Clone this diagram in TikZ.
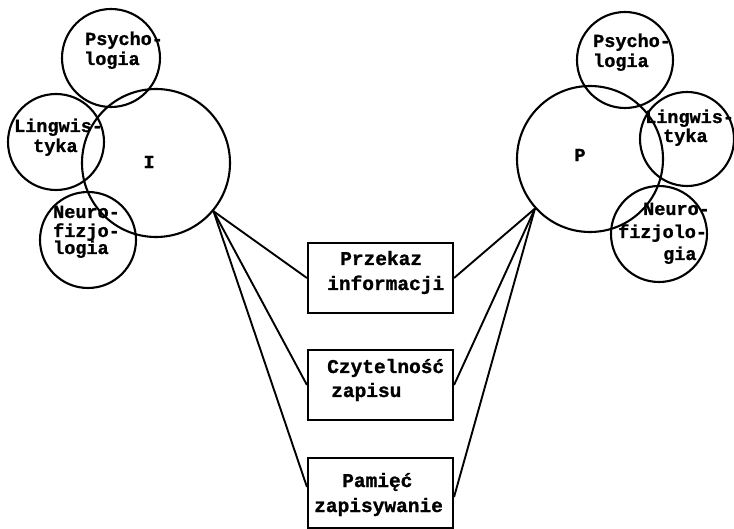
\documentclass[tikz,border=0pt]{standalone}
\usepackage{fontspec}
\usetikzlibrary{calc}
\setmonofont{Liberation Mono}
\newfontfamily\tw[FakeBold=1.2]{Liberation Mono}
\begin{document}
\begin{tikzpicture}[x=1pt,y=-1pt,
  circ/.style={draw,circle,line width=2.1pt,inner sep=0pt},
  boxn/.style={draw,rectangle,line width=2.1pt,minimum width=145pt,minimum height=70pt,inner sep=0pt},
  lbl/.style={anchor=base west,inner sep=0pt,font=\tw\bfseries\fontsize{18.5}{20}\selectfont},
  blbl/.style={anchor=base west,inner sep=0pt,font=\tw\bfseries\fontsize{19.5}{20}\selectfont},
  ctr/.style={inner sep=0pt,font=\tw\bfseries\fontsize{18.5}{20}\selectfont},
  conn/.style={line width=1.9pt}]
\path[use as bounding box] (0,0) rectangle (734,529);
% left group
\node[circ,minimum size=98pt] (lpsy) at (111,58) {};
\node[circ,minimum size=148pt] (I) at (156,163) {};
\node[circ,minimum size=96pt] (lling) at (56,142) {};
\node[circ,minimum size=96pt] (lneu) at (88,240) {};
\node[ctr] (ilab) at (149,162) {I};
\node[lbl] (lpsy1) at (85,45) {Psycho-};
\node[lbl] (lpsy2) at (84,65) {logia};
\node[lbl] (lling1) at (14,132) {Lingwis-};
\node[lbl] (lling2) at (33,152) {tyka};
\node[lbl] (lneu1) at (53,218) {Neuro-};
\node[lbl] (lneu2) at (53,237) {fizjo-};
\node[lbl] (lneu3) at (53,254) {logia};
% right group
\node[circ,minimum size=96pt] (rpsy) at (625,60) {};
\node[circ,minimum size=146pt] (P) at (590,159) {};
\node[circ,minimum size=94pt] (rling) at (687,139) {};
\node[circ,minimum size=96pt] (rneu) at (659,234) {};
\node[ctr] (plab) at (580,155) {P};
\node[lbl] (rpsy1) at (593,47) {Psycho-};
\node[lbl] (rpsy2) at (593,67) {logia};
\node[lbl] (rling1) at (645,123) {Lingwis-};
\node[lbl] (rling2) at (663,142) {tyka};
\node[lbl] (rneu1) at (643,215) {Neuro-};
\node[lbl] (rneu2) at (618,238) {fizjolo-};
\node[lbl] (rneu3) at (663,260) {gia};
% boxes
\node[boxn] (b1) at (380.5,278) {};
\node[boxn] (b2) at (380.5,385) {};
\node[boxn] (b3) at (380.5,493) {};
\node[blbl] (t11) at (340,265) {Przekaz};
\node[blbl] (t12) at (327,290) {informacji};
\node[blbl] (t21) at (327,373) {Czytelność};
\node[blbl] (t22) at (331,397) {zapisu};
\node[blbl] (t31) at (342,487) {Pamięć};
\node[blbl] (t32) at (314,512) {zapisywanie};
% connectors
\draw[conn] (I.-40) -- (b1.west);
\draw[conn] (I.-40) -- (b2.west);
\draw[conn] (I.-40) -- ($(b3.west)+(0,-6)$);
\draw[conn] (P.222) -- (b1.east);
\draw[conn] (P.222) -- (b2.east);
\draw[conn] (P.222) -- ($(b3.east)+(0,4)$);
\end{tikzpicture}
\end{document}
